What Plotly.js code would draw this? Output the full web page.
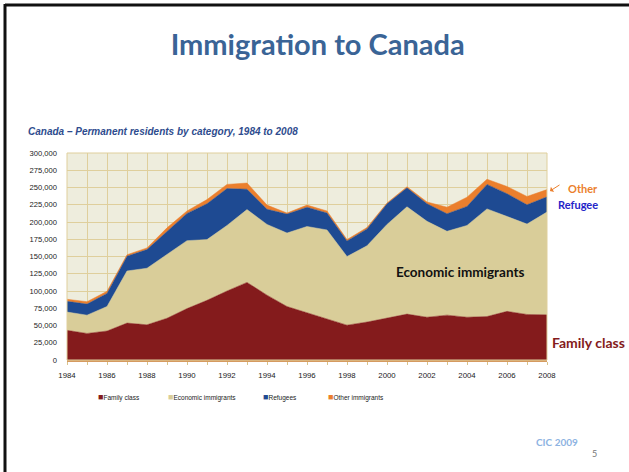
<!DOCTYPE html>
<html>
<head>
<meta charset="utf-8">
<script src="https://cdn.plot.ly/plotly-3.0.1.min.js"></script>
<style>html,body{margin:0;padding:0;background:#fff;}#chart{width:629px;height:472px;}</style>
</head>
<body>
<div id="chart"></div>
<script>
// Data, persons per year
const years = [1984,1985,1986,1987,1988,1989,1990,1991,1992,1993,1994,1995,1996,1997,1998,1999,2000,2001,2002,2003,2004,2005,2006,2007,2008];
const familyClass = [43000,38500,42000,53500,51000,60500,74500,86500,100000,112500,94000,77500,68500,59500,50500,55000,60500,66500,62000,65000,62000,63000,70500,66000,65500];
const economicImmigrants = [26500,26500,35500,75500,82000,92500,98500,88000,95000,105500,102500,106500,125000,129000,99500,110500,136000,155500,139000,121500,133000,156000,138000,131000,149000];
const refugees = [15500,16000,19000,21500,27000,33000,39500,52000,53500,29500,22000,27500,28000,24500,22500,24500,30000,27500,25500,25500,27500,35500,32500,28000,22000];
const otherImmigrants = [3000,3500,3000,2000,2500,5500,3500,6000,6000,9000,6000,1500,3000,3000,2000,2000,1000,1500,2500,9500,13500,7500,10500,12000,10500];
const seriesNames = ["Family class","Economic immigrants","Refugees","Other immigrants"];
const colors = ["#841B1C","#D9CD99","#1E4A92","#EB7F2D"];

// pixel -> paper helpers (plot area: x 67..547, y 153..360)
const L = 67, R = 547, T = 153, B = 360;
const px = x => (x - L) / (R - L);
const py = y => (B - y) / (B - T);

const allSeries = [familyClass, economicImmigrants, refugees, otherImmigrants];
const traces = allSeries.map((vals, i) => ({
  type: "scatter",
  x: years,
  y: vals,
  name: seriesNames[i],
  stackgroup: "one",
  mode: "lines",
  line: {width: 0.5, color: colors[i]},
  fillcolor: colors[i],
  showlegend: false,
  hoverinfo: "x+y+name"
}));

const sans = "Liberation Sans, Arial, sans-serif";
const legendX = [96, 166, 261, 326];
const legendAnn = seriesNames.map((n, i) => ({
  xref: "paper", yref: "paper",
  x: px(legendX[i]), y: py(397),
  xanchor: "left", yanchor: "middle",
  showarrow: false,
  text: '<span style="color:' + colors[i] + ';font-size:9px">■</span>' + n,
  font: {family: sans, size: 6.5, color: "#222"}
}));

const calibri = "Lato, Carlito, Calibri, sans-serif";

const layout = {
  width: 629, height: 472,
  margin: {l: L, r: 629 - R, t: T, b: 472 - B},
  paper_bgcolor: "#ffffff",
  plot_bgcolor: "#EEEDDD",
  title: {
    text: "<b>Immigration to Canada</b>",
    x: 0.505, xref: "container", xanchor: "center",
    y: 1 - 45/472, yref: "container", yanchor: "middle",
    font: {family: calibri, size: 29, color: "#3A6496"}
  },
  xaxis: {
    range: [1984, 2008],
    tickvals: [1984,1986,1988,1990,1992,1994,1996,1998,2000,2002,2004,2006,2008],
    ticks: "outside", ticklen: 3, tickcolor: "#D9C48E",
    ticklabelstandoff: 4,
    minor: {dtick: 1, tick0: 1984, ticks: "outside", ticklen: 3, tickcolor: "#D9C48E", showgrid: true, gridcolor: "#DFCF9C", gridwidth: 1},
    showgrid: true, gridcolor: "#DFCF9C", gridwidth: 1,
    showline: true, linecolor: "#D59A60", linewidth: 1.5, mirror: false,
    zeroline: false,
    tickfont: {family: sans, size: 7.8, color: "#222"},
    fixedrange: true
  },
  yaxis: {
    range: [0, 300000],
    dtick: 25000, tick0: 0,
    tickformat: ",d",
    showgrid: true, gridcolor: "#DFCF9C", gridwidth: 1,
    zeroline: false,
    showline: false,
    ticks: "", ticklabelstandoff: 9,
    tickfont: {family: sans, size: 7.6, color: "#222"},
    fixedrange: true
  },
  shapes: [
    {type: "rect", xref: "paper", yref: "paper", x0: 0, x1: 1, y0: 0, y1: 1, line: {color: "#DFCF9C", width: 1}, fillcolor: "rgba(0,0,0,0)", layer: "above"},
    {type: "line", xref: "paper", yref: "paper", x0: px(5), x1: px(629), y0: py(5), y1: py(5), line: {color: "#111", width: 3}},
    {type: "line", xref: "paper", yref: "paper", x0: px(5), x1: px(5), y0: py(4), y1: py(472), line: {color: "#111", width: 3}}
  ],
  annotations: [
    {xref: "paper", yref: "paper", x: px(26), y: py(131), xanchor: "left", yanchor: "middle", showarrow: false,
     text: "<b><i>Canada – Permanent residents by category, 1984 to 2008</i></b>",
     font: {family: sans, size: 10, color: "#2E4C8E"}},
    {xref: "paper", yref: "paper", x: px(460), y: py(272), xanchor: "center", yanchor: "middle", showarrow: false,
     text: "<b>Economic immigrants</b>", font: {family: calibri, size: 13.5, color: "#111"}},
    {xref: "paper", yref: "paper", x: px(550), y: py(342), xanchor: "left", yanchor: "middle", showarrow: false,
     text: "<b>Family class</b>", font: {family: calibri, size: 14, color: "#841B1C"}},
    {xref: "paper", yref: "paper", x: px(556), y: py(204), xanchor: "left", yanchor: "middle", showarrow: false,
     text: "<b>Refugee</b>", font: {family: calibri, size: 11, color: "#2424C8"}},
    {xref: "paper", yref: "paper", x: px(566), y: py(188), xanchor: "left", yanchor: "middle", showarrow: false,
     text: "<b>Other</b>", font: {family: calibri, size: 11, color: "#EB7F2D"}},
    {xref: "paper", yref: "paper", x: px(550), y: py(191), axref: "pixel", ayref: "pixel", ax: 11, ay: -7,
     showarrow: true, arrowhead: 1, arrowsize: 1, arrowwidth: 1, arrowcolor: "#EB7F2D", standoff: 0, startstandoff: 0,
     text: " ", font: {size: 1}},
    {xref: "paper", yref: "paper", x: px(557), y: py(442), xanchor: "center", yanchor: "middle", showarrow: false,
     text: "<b>CIC 2009</b>", font: {family: calibri, size: 10, color: "#8DB3E2"}},
    {xref: "paper", yref: "paper", x: px(594), y: py(453), xanchor: "center", yanchor: "middle", showarrow: false,
     text: "5", font: {family: calibri, size: 9, color: "#777"}}
  ].concat(legendAnn),
  showlegend: false
};

Plotly.newPlot("chart", traces, layout, {displayModeBar: false, staticPlot: true});
</script>
</body>
</html>
